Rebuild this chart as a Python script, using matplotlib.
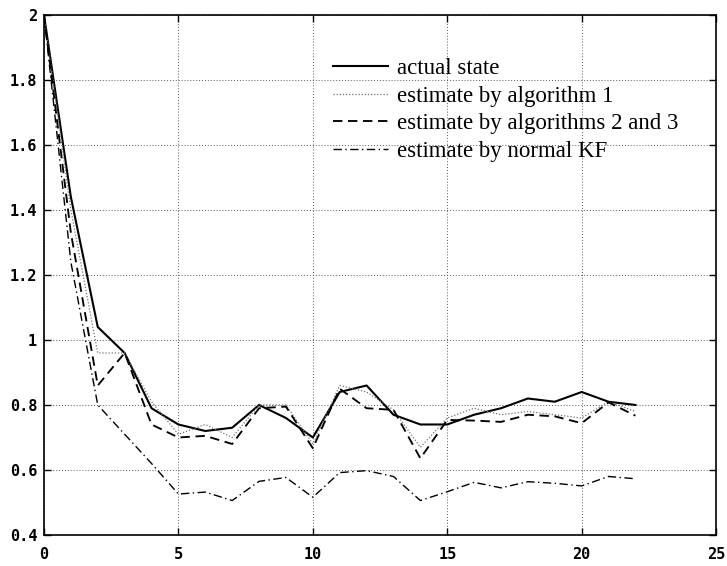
import matplotlib.pyplot as plt

# -------------------------------
# data
# -------------------------------

k = list(range(23))

actual = [2.0, 1.44, 1.04, 0.96, 0.79, 0.74, 0.72, 0.73, 0.80, 0.76, 0.70, 0.84,
          0.86, 0.77, 0.74, 0.74, 0.77, 0.79, 0.82, 0.81, 0.84, 0.81, 0.80]
alg1 = [2.0, 1.40, 0.96, 0.96, 0.81, 0.71, 0.74, 0.70, 0.80, 0.80, 0.68, 0.86,
        0.84, 0.785, 0.67, 0.76, 0.79, 0.77, 0.78, 0.77, 0.76, 0.81, 0.78]
alg23 = [2.0, 1.33, 0.86, 0.96, 0.74, 0.70, 0.705, 0.68, 0.79, 0.795, 0.667, 0.85,
         0.79, 0.785, 0.636, 0.754, 0.752, 0.748, 0.77, 0.765, 0.744, 0.808, 0.767]
normal_kf = [2.0, 1.24, 0.80, 0.71, 0.62, 0.526, 0.532, 0.506, 0.565, 0.577, 0.516, 0.592,
             0.598, 0.58, 0.506, 0.533, 0.562, 0.545, 0.564, 0.559, 0.551, 0.58, 0.573]

labels = ['actual state', 'estimate by algorithm 1',
          'estimate by algorithms 2 and 3', 'estimate by normal KF']

xticks = [0, 5, 10, 15, 20, 25]
yticks = [0.4, 0.6, 0.8, 1, 1.2, 1.4, 1.6, 1.8, 2]
ytick_labels = ['0.4', '0.6', '0.8', '1', '1.2', '1.4', '1.6', '1.8', '2']

# -------------------------------
# plot
# -------------------------------

fig = plt.figure(figsize=(7.27, 5.66), dpi=100)
ax = fig.add_axes([0.0605, 0.0548, 0.9245, 0.9187])

ax.plot(k, actual, color='black', lw=1.5, label=labels[0])
ax.plot(k, alg1, color='0.45', lw=0.9, linestyle=(0, (1, 1.5)), label=labels[1])
ax.plot(k, alg23, color='black', lw=1.35, linestyle=(0, (5, 3)), label=labels[2])
ax.plot(k, normal_kf, color='black', lw=1.0, linestyle=(0, (6, 2.5, 1, 2.5)), label=labels[3])

ax.set_xlim(0, 25)
ax.set_ylim(0.4, 2)
ax.set_xticks(xticks)
ax.set_yticks(yticks)
ax.set_yticklabels(ytick_labels)

ax.grid(True, linestyle=(0, (1, 2)), color='0.35', lw=0.7)
ax.tick_params(direction='in', top=True, right=True, length=5, width=1,
               labelsize=11)
ax.tick_params(axis='x', pad=9)
ax.tick_params(axis='y', pad=5)
for lab in ax.get_xticklabels() + ax.get_yticklabels():
    lab.set_family('DejaVu Sans Mono')
    lab.set_weight('bold')
for sp in ax.spines.values():
    sp.set_linewidth(1.2)

ax.legend(loc='upper left', bbox_to_anchor=(0.43, 0.917), frameon=False,
          prop={'family': 'Liberation Serif', 'size': 16.5},
          handlelength=2.4, handletextpad=0.4, labelspacing=0.28,
          borderpad=0, borderaxespad=0)

fig.savefig('out.png', dpi=100)
